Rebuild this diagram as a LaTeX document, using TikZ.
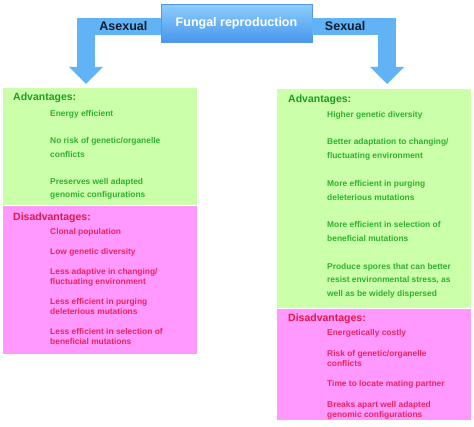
\documentclass[tikz,border=0pt]{standalone}
\usepackage{fontspec}
\setmainfont{Liberation Sans}
\usetikzlibrary{arrows.meta, calc, positioning}

\definecolor{boxgreen}{RGB}{204,255,170}
\definecolor{boxpink}{RGB}{255,153,255}
\definecolor{headgreen}{RGB}{30,158,30}
\definecolor{itemgreen}{RGB}{45,178,45}
\definecolor{headred}{RGB}{226,24,72}
\definecolor{itemred}{RGB}{236,34,96}
\definecolor{arrowblue}{RGB}{98,178,246}
\definecolor{toptop}{RGB}{140,205,252}
\definecolor{topbot}{RGB}{72,150,236}
\definecolor{topedge}{RGB}{84,152,226}
\definecolor{sidetext}{RGB}{18,28,46}

\begin{document}
\begin{tikzpicture}[x=1pt, y=-1pt,
		top/.style={draw=topedge, top color=toptop, bottom color=topbot, minimum width=151pt, minimum height=38pt,
			text=white, font=\bfseries\fontsize{12.5}{15}\selectfont},
		branch/.style={draw=arrowblue, line width=17.5pt, -{Triangle[width=34pt, length=17pt, line width=0pt]}},
		side/.style={text=sidetext, font=\bfseries\fontsize{12.5}{15}\selectfont},
		advbox/.style={fill=boxgreen, minimum width=194pt, anchor=north west, inner sep=0pt},
		disbox/.style={fill=boxpink, minimum width=194pt, anchor=north west, inner sep=0pt},
		advhead/.style={text=headgreen, anchor=west, inner sep=0pt, font=\bfseries\fontsize{10.5}{12}\selectfont},
		dishead/.style={text=headred, anchor=west, inner sep=0pt, font=\bfseries\fontsize{10.5}{12}\selectfont},
		advlist/.style={text=itemgreen, anchor=north west, inner sep=0pt, align=left},
		dislist/.style={text=itemred, anchor=north west, inner sep=0pt, align=left}]
	\fill[white] (0,0) rectangle (474,427);
	\useasboundingbox (0,0) rectangle (474,427);

	\node[top] (top) at (236.5,23.5) {Fungal reproduction};

	% asexual side
	\node[advbox, minimum height=117pt] (asexAdv) at (3,88) {};
	\node[disbox, minimum height=148pt] (asexDis) at (asexAdv.south west) {};
	% sexual side
	\node[advbox, minimum height=219pt] (sexAdv) at (277,89) {};
	\node[disbox, minimum height=111pt] (sexDis) at (sexAdv.south west) {};

	\coordinate (tipL) at (86,84);
	\coordinate (tipR) at (387,84);
	\draw[branch] ([yshift=-3pt]top.west) -| node[side, pos=0.25] {Asexual} (tipL);
	\draw[branch] ([yshift=-3pt]top.east) -| node[side, pos=0.22] {Sexual} (tipR);

	\node[advhead] at ([xshift=10pt, yshift=-10pt]asexAdv.north west) {Advantages:};
	\node[advlist, font=\bfseries\fontsize{8.4}{13.6}\selectfont] at ([xshift=47pt, yshift=-22pt]asexAdv.north west)
		{Energy efficient\\[13.6pt]
		 No risk of genetic/organelle\\ conflicts\\[13.6pt]
		 Preserves well adapted\\ genomic configurations};

	\node[dishead] at ([xshift=10pt, yshift=-12pt]asexDis.north west) {Disadvantages:};
	\node[dislist, font=\bfseries\fontsize{8.4}{10}\selectfont] at ([xshift=47pt, yshift=-23pt]asexDis.north west)
		{Clonal population\\[10pt]
		 Low genetic diversity\\[10pt]
		 Less adaptive in changing/\\ fluctuating environment\\[10pt]
		 Less efficient in purging\\ deleterious mutations\\[10pt]
		 Less efficient in selection of\\ beneficial mutations};

	\node[advhead] at ([xshift=11pt, yshift=-11pt]sexAdv.north west) {Advantages:};
	\node[advlist, font=\bfseries\fontsize{8.4}{13.8}\selectfont] at ([xshift=50pt, yshift=-22pt]sexAdv.north west)
		{Higher genetic diversity\\[13.8pt]
		 Better adaptation to changing/\\ fluctuating environment\\[13.8pt]
		 More efficient in purging\\ deleterious mutations\\[13.8pt]
		 More efficient in selection of\\ beneficial mutations\\[13.8pt]
		 Produce spores that can better\\ resist environmental stress, as\\ well as be widely dispersed};

	\node[dishead] at ([xshift=11pt, yshift=-10pt]sexDis.north west) {Disadvantages:};
	\node[dislist, font=\bfseries\fontsize{8.4}{10}\selectfont] at ([xshift=50pt, yshift=-21pt]sexDis.north west)
		{Energetically costly\\[10.5pt]
		 Risk of genetic/organelle\\ conflicts\\[10.5pt]
		 Time to locate mating partner\\[10.5pt]
		 Breaks apart well adapted\\ genomic configurations};
\end{tikzpicture}
\end{document}
